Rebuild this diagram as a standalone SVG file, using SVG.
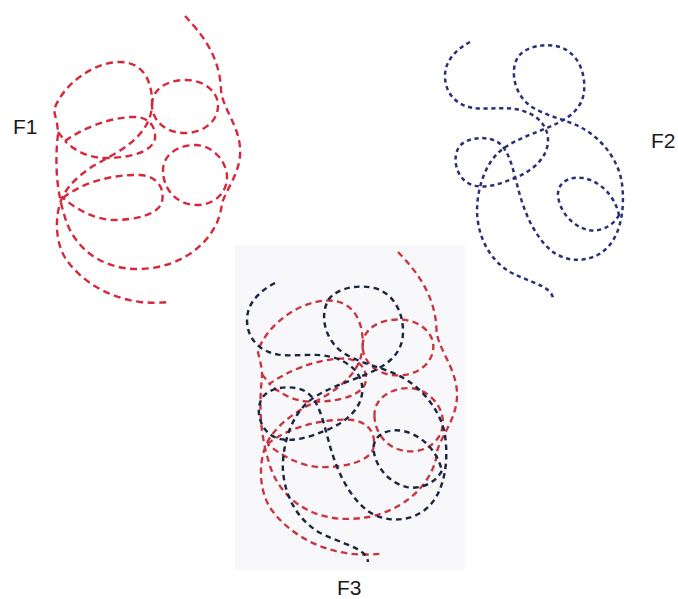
<svg xmlns="http://www.w3.org/2000/svg" xmlns:xlink="http://www.w3.org/1999/xlink" width="678" height="599" viewBox="0 0 678 599">
<style>
.lbl{font-family:"Liberation Sans",Arial,sans-serif;font-size:21px;fill:#1a1a1a}
.f1{fill:none;stroke:#d6283a;stroke-width:2.4;stroke-dasharray:7 4.5;stroke-linecap:butt}
.f2{fill:none;stroke:#2b2f78;stroke-width:2.5;stroke-dasharray:4.2 3.6}
.f3r{fill:none;stroke:#c93440;stroke-width:2.2;stroke-dasharray:6 4}
.f3b{fill:none;stroke:#1d2640;stroke-width:2.2;stroke-dasharray:5 3.8}
</style>
<defs>
<g id="f1shape">
<path d="M185,16 C200,32 220,55 221,90 C222,107 238,124 240,147 C242,170 228,186 222,203 C219,238 185,268 140,269 C100,270 72,246 64,214 C56,188 55,160 58,134 C58,124 55,116 54,110 C62,86 92,62 120,62 C146,62 153,86 152,106 C150,135 122,150 102,161 C85,170 69,183 62,198 C54,217 55,245 68,262 C84,283 110,298 140,302 C150,303 160,303 168,302"/>
<path d="M152,105 C152,88 168,80 186,80 C204,80 219,92 218,107 C217,122 203,133 185,133 C166,133 152,121 152,105 Z"/>
<path d="M58,132 L65,141 C80,130 106,118 132,117 C150,116 156,128 155,138 C153,152 130,158 105,158 C88,158 74,150 65,141"/>
<path d="M163,172 C162,155 178,145 195,145 C213,145 227,162 227,177 C227,194 213,205 197,205 C178,205 164,191 163,172 Z"/>
<path d="M63,198 C80,184 110,174 140,175 C157,176 165,188 162,202 C158,215 135,220 113,220 C92,219 75,208 63,198"/>
</g>
<g id="f2shape">
<path d="M470,42 C457,49 445,60 445,76 C445,93 456,105 473,108 C488,110 505,106 520,110 C536,114 548,125 548,140 C548,158 532,172 512,179 C498,185 480,190 468,183 C456,176 452,158 459,147 C466,137 488,135 499,143 C510,152 513,170 518,188 C524,212 535,238 553,252 C568,263 592,263 607,248 C621,234 625,208 622,184 C619,160 601,138 582,128 C568,120 548,117 532,107 C515,96 509,72 518,57 C526,46 545,43 560,47 C578,53 586,73 584,92 C582,108 570,117 558,123 C540,132 515,138 499,152 C484,166 477,190 477,212 C478,238 490,260 510,272 C525,280 542,284 549,291 C552,294 553,297 553,299"/>
<path d="M619,215 C612,228 598,232 588,230 C572,226 560,212 558,196 C557,182 570,176 583,178 C600,181 615,196 619,215 Z"/>
</g>
</defs>
<rect width="678" height="599" fill="#ffffff"/>
<g id="F1">
<use href="#f1shape" class="f1"/>
<text class="lbl" x="13" y="134">F1</text>
</g>
<g id="F2">
<use href="#f2shape" class="f2"/>
<text class="lbl" x="651" y="148">F2</text>
</g>
<g id="F3">
<rect x="235" y="245" width="230" height="325" fill="#f8f8fa"/>
<use href="#f1shape" class="f3r" transform="translate(398,348) scale(1.07,1.055) translate(-185,-107)"/>
<use href="#f2shape" class="f3b" transform="translate(275,283) scale(1.12,1.086) translate(-470,-42)"/>
<text class="lbl" x="337" y="595">F3</text>
</g>
</svg>
